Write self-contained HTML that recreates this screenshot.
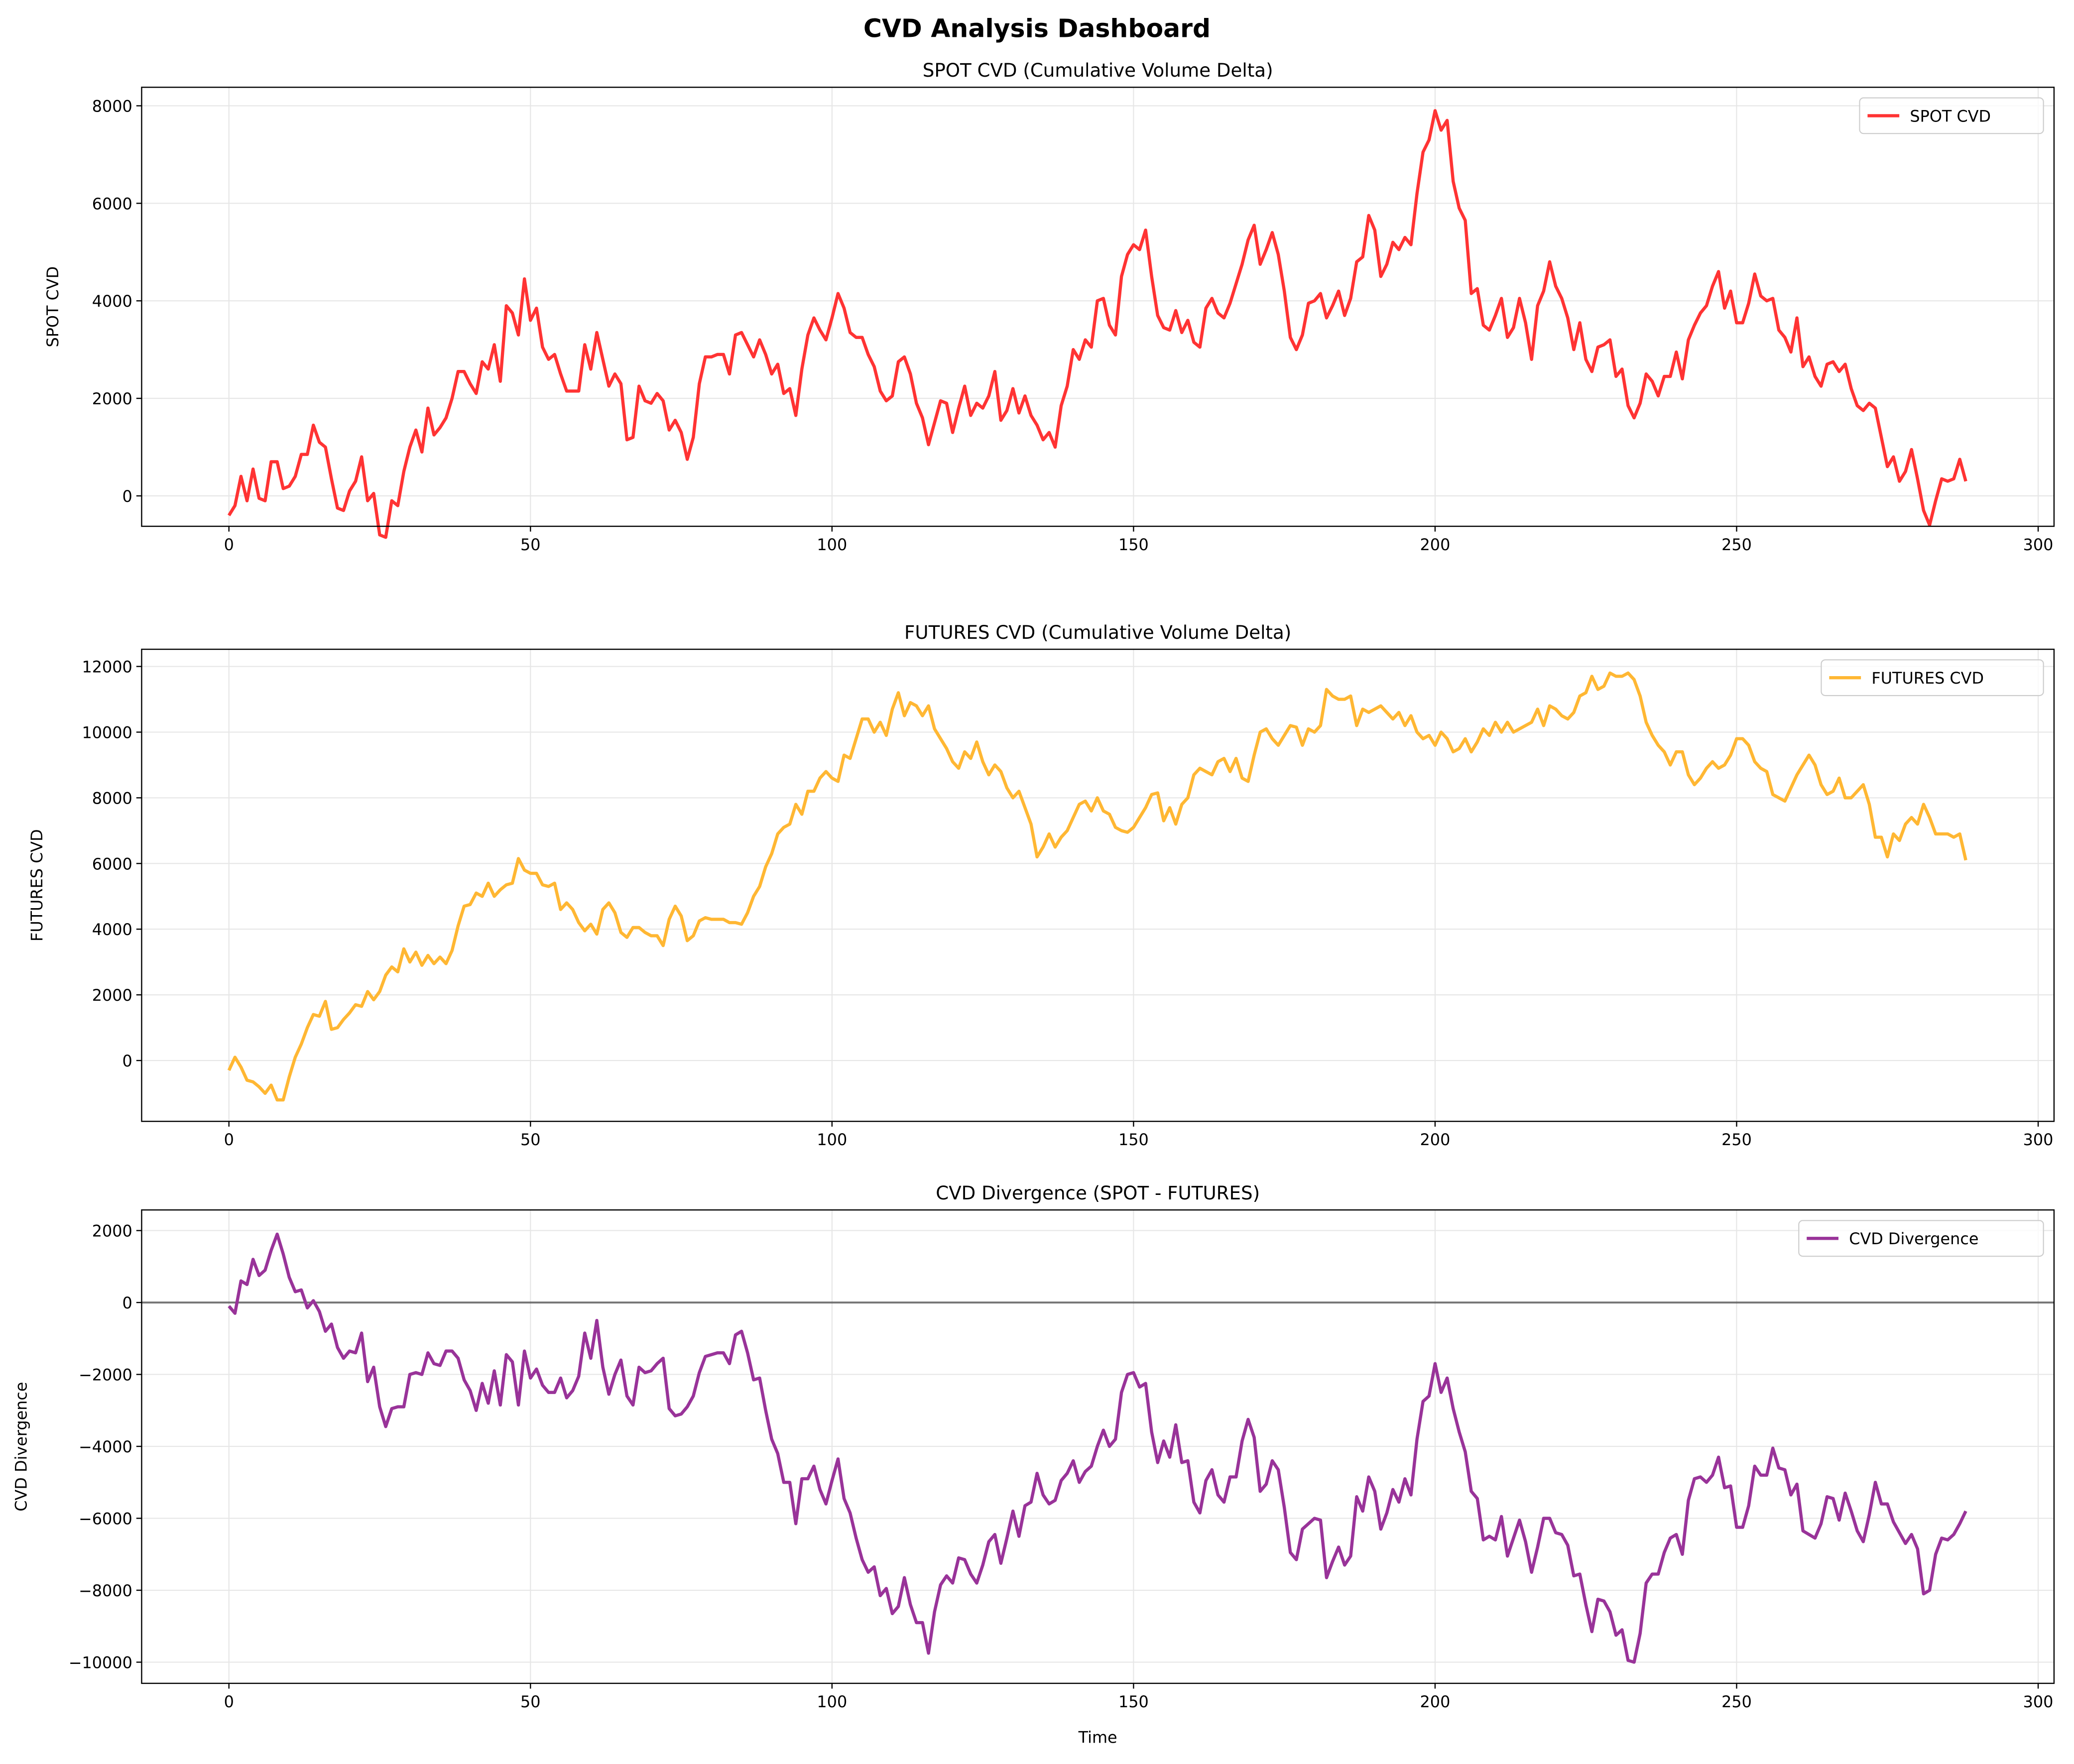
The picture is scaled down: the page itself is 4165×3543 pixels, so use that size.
<!DOCTYPE html>
<html><head><meta charset="utf-8"><style>
html,body{margin:0;padding:0;background:#fff;}
svg{display:block;font-family:"DejaVu Sans","Liberation Sans",sans-serif;}
</style></head><body>
<svg id="c" width="4165" height="3543" viewBox="0 0 1568 1334" xmlns="http://www.w3.org/2000/svg">
<rect width="1568" height="1334" fill="#fff"/>
<text x="784" y="28" text-anchor="middle" font-size="19" font-weight="bold">CVD Analysis Dashboard</text>
</svg>
<script>
const timeTicks=[0,50,100,150,200,250,300];
const spotTicks=[0,2000,4000,6000,8000];
const futTicks=[0,2000,4000,6000,8000,10000,12000];
const divTicks=[-10000,-8000,-6000,-4000,-2000,0,2000];
const spotValues=[-400,-200,400,-100,550,-50,-100,700,700,150,200,400,850,850,1450,1100,1000,350,-250,-300,100,300,800,-100,50,-800,-850,-100,-200,500,1000,1350,900,1800,1250,1400,1600,2000,2550,2550,2300,2100,2750,2600,3100,2350,3900,3750,3300,4450,3600,3850,3050,2800,2900,2500,2150,2150,2150,3100,2600,3350,2800,2250,2500,2300,1150,1200,2250,1950,1900,2100,1950,1350,1550,1300,750,1200,2300,2850,2850,2900,2900,2500,3300,3350,3100,2850,3200,2900,2500,2700,2100,2200,1650,2600,3300,3650,3400,3200,3650,4150,3850,3350,3250,3250,2900,2650,2150,1950,2050,2750,2850,2500,1900,1600,1050,1500,1950,1900,1300,1800,2250,1650,1900,1800,2050,2550,1550,1750,2200,1700,2050,1650,1450,1150,1300,1000,1850,2250,3000,2800,3200,3050,4000,4050,3500,3300,4500,4950,5150,5050,5450,4500,3700,3450,3400,3800,3350,3600,3150,3050,3850,4050,3750,3650,3950,4350,4750,5250,5550,4750,5050,5400,4950,4200,3250,3000,3300,3950,4000,4150,3650,3900,4200,3700,4050,4800,4900,5750,5450,4500,4750,5200,5050,5300,5150,6200,7050,7300,7900,7500,7700,6450,5900,5650,4150,4250,3500,3400,3700,4050,3250,3450,4050,3550,2800,3900,4200,4800,4300,4050,3650,3000,3550,2800,2550,3050,3100,3200,2450,2600,1850,1600,1900,2500,2350,2050,2450,2450,2950,2400,3200,3500,3750,3900,4300,4600,3850,4200,3550,3550,3950,4550,4100,4000,4050,3400,3250,2950,3650,2650,2850,2450,2250,2700,2750,2550,2700,2200,1850,1750,1900,1800,1200,600,800,300,500,950,350,-300,-600,-100,350,300,350,750,300];
const futuresValues=[-300,100,-200,-600,-650,-800,-1000,-750,-1200,-1200,-500,100,500,1000,1400,1350,1800,950,1000,1250,1450,1700,1650,2100,1850,2100,2600,2850,2700,3400,3000,3300,2900,3200,2950,3150,2950,3350,4100,4700,4750,5100,5000,5400,5000,5200,5350,5400,6150,5800,5700,5700,5350,5300,5400,4600,4800,4600,4200,3950,4150,3850,4600,4800,4500,3900,3750,4050,4050,3900,3800,3800,3500,4300,4700,4400,3650,3800,4250,4350,4300,4300,4300,4200,4200,4150,4500,5000,5300,5900,6300,6900,7100,7200,7800,7500,8200,8200,8600,8800,8600,8500,9300,9200,9800,10400,10400,10000,10300,9900,10700,11200,10500,10900,10800,10500,10800,10100,9800,9500,9100,8900,9400,9200,9700,9100,8700,9000,8800,8300,8000,8200,7700,7200,6200,6500,6900,6500,6800,7000,7400,7800,7900,7600,8000,7600,7500,7100,7000,6950,7100,7400,7700,8100,8150,7300,7700,7200,7800,8000,8700,8900,8800,8700,9100,9200,8800,9200,8600,8500,9300,10000,10100,9800,9600,9900,10200,10150,9600,10100,10000,10200,11300,11100,11000,11000,11100,10200,10700,10600,10700,10800,10600,10400,10600,10200,10500,10000,9800,9900,9600,10000,9800,9400,9500,9800,9400,9700,10100,9900,10300,10000,10300,10000,10100,10200,10300,10700,10200,10800,10700,10500,10400,10600,11100,11200,11700,11300,11400,11800,11700,11700,11800,11600,11100,10300,9900,9600,9400,9000,9400,9400,8700,8400,8600,8900,9100,8900,9000,9300,9800,9800,9600,9100,8900,8800,8100,8000,7900,8300,8700,9000,9300,9000,8400,8100,8200,8600,8000,8000,8200,8400,7800,6800,6800,6200,6900,6700,7200,7400,7200,7800,7400,6900,6900,6900,6800,6900,6100];
const divergenceValues=spotValues.map((v,i)=>v-futuresValues[i]);

const NS="http://www.w3.org/2000/svg";
const svg=document.getElementById('c');
function mk(tag,attrs,parent){const e=document.createElementNS(NS,tag);for(const k in attrs)e.setAttribute(k,attrs[k]);(parent||svg).appendChild(e);return e;}
const X0=107,X1=1553;
function xs(t){return 173+(t-0)*(1541-173)/300;}

function panel(cfg){
  const g=mk('g',{});
  
  
  const ys=v=>cfg.y0px+(v-cfg.v0)*(cfg.y1px-cfg.y0px)/(cfg.v1-cfg.v0);
  timeTicks.forEach(t=>{const l=mk('line',{x1:xs(t),x2:xs(t),y1:cfg.top,y2:cfg.bot,stroke:'#e6e6e6','stroke-width':0.8},g);
    });
  cfg.ticks.forEach(v=>{const l=mk('line',{x1:X0,x2:X1,y1:ys(v),y2:ys(v),stroke:'#e6e6e6','stroke-width':0.8},g);
    });
  if(cfg.zero){const z=mk('line',{x1:X0,x2:X1,y1:ys(0),y2:ys(0),stroke:'#000','stroke-opacity':0.5,'stroke-width':1.5},g);
    }
  const pts=cfg.data.map((v,i)=>xs(i).toFixed(2)+','+ys(v).toFixed(2)).join(' ');
  const pl=mk('polyline',{points:pts,fill:'none',stroke:cfg.color,'stroke-width':2.4,'stroke-linejoin':'round'},g);
  
  
  const fr=mk('rect',{x:X0,y:cfg.top,width:X1-X0,height:cfg.bot-cfg.top,fill:'none',stroke:'#000','stroke-width':0.9},g);
  
  timeTicks.forEach(t=>{mk('line',{x1:xs(t),x2:xs(t),y1:cfg.bot,y2:cfg.bot+4,stroke:'#000','stroke-width':0.9},g);
    const tx=mk('text',{x:xs(t),y:cfg.bot+18,'text-anchor':'middle','font-size':12},g);tx.textContent=t;
    });
  cfg.ticks.forEach(v=>{mk('line',{x1:X0-4,x2:X0,y1:ys(v),y2:ys(v),stroke:'#000','stroke-width':0.9},g);
    const tx=mk('text',{x:X0-7,y:ys(v)+4.5,'text-anchor':'end','font-size':12},g);tx.textContent=v<0?'\u2212'+(-v):v;
    });
  const tt=mk('text',{x:(X0+X1)/2,y:cfg.top-8,'text-anchor':'middle','font-size':14},g);tt.textContent=cfg.title;
  
  const yl=mk('text',{x:0,y:0,'text-anchor':'middle','font-size':12,transform:`translate(${cfg.ylx},${(cfg.top+cfg.bot)/2}) rotate(-90)`},g);yl.textContent=cfg.ylabel;
  
  const lg=mk('g',{},g);
  
  
  mk('rect',{x:cfg.lgx,y:cfg.top+8,width:1545-cfg.lgx,height:27,rx:3,fill:'#fff','fill-opacity':0.8,stroke:'#ccc','stroke-width':0.8},lg);
  mk('line',{x1:cfg.lgx+6,x2:cfg.lgx+30,y1:cfg.top+21.5,y2:cfg.top+21.5,stroke:cfg.color,'stroke-width':2.4},lg);
  const lt=mk('text',{x:cfg.lgx+38,y:cfg.top+26,'font-size':12},lg);lt.textContent=cfg.legend;
  
}
panel({name:'spot-cvd',data:spotValues,ticks:spotTicks,top:66,bot:398,v0:0,y0px:375,v1:8000,y1px:80,color:'#ff3333',title:'SPOT CVD (Cumulative Volume Delta)',ylabel:'SPOT CVD',ylx:44,legend:'SPOT CVD',lgx:1406});
panel({name:'futures-cvd',data:futuresValues,ticks:futTicks,top:491,bot:848,v0:0,y0px:802,v1:12000,y1px:504,color:'#ffb733',title:'FUTURES CVD (Cumulative Volume Delta)',ylabel:'FUTURES CVD',ylx:32,legend:'FUTURES CVD',lgx:1377});
panel({name:'cvd-divergence',data:divergenceValues,ticks:divTicks,top:915,bot:1273,v0:0,y0px:985,v1:-10000,y1px:1257,color:'#993399',title:'CVD Divergence (SPOT - FUTURES)',ylabel:'CVD Divergence',ylx:20,legend:'CVD Divergence',lgx:1360,zero:true});
const xl=mk('text',{x:(X0+X1)/2,y:1318,'text-anchor':'middle','font-size':12});xl.textContent='Time';


</script>
</body></html>
